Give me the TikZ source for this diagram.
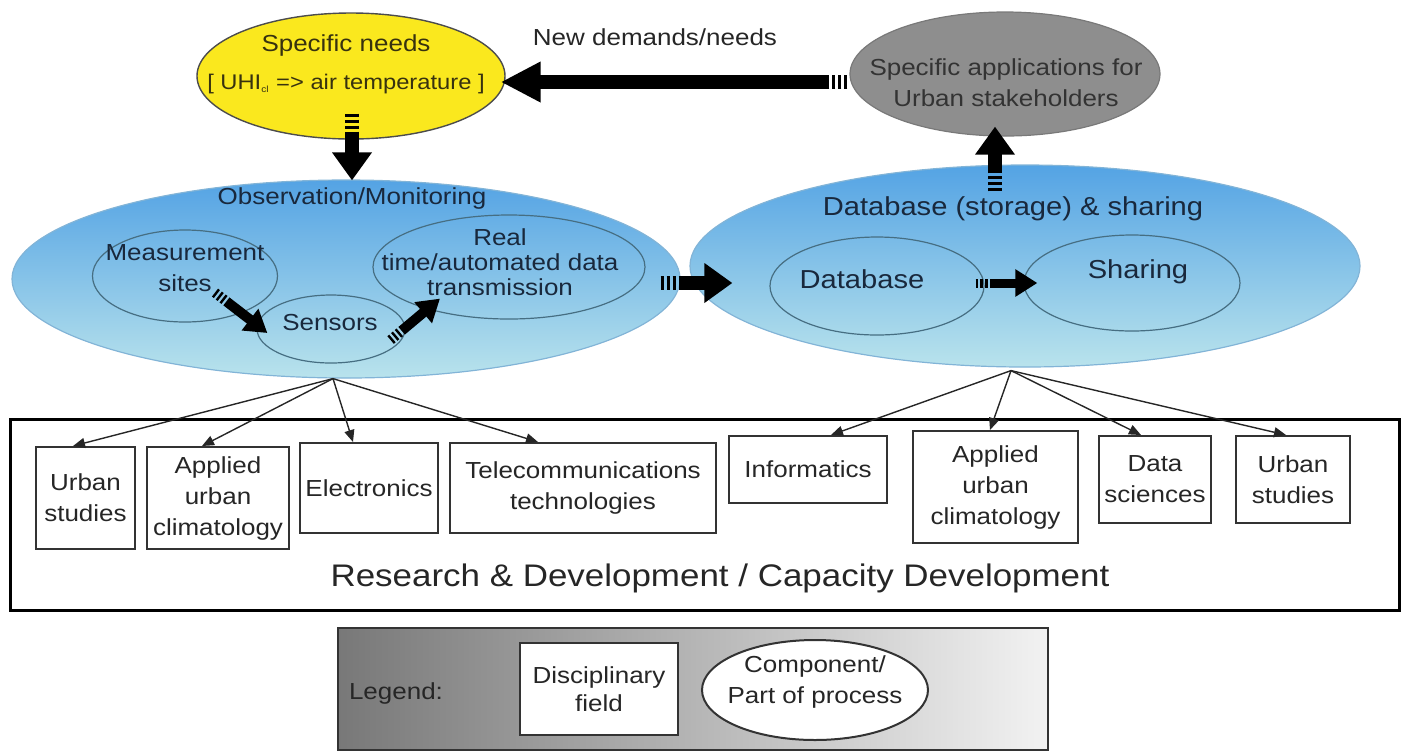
\documentclass[tikz,border=0pt]{standalone}
\usepackage{fontspec}
\setmainfont{Liberation Sans}[FakeStretch=1.12]
\usetikzlibrary{shapes.geometric,arrows.meta,calc}
\definecolor{ylw}{RGB}{250,232,30}
\definecolor{ytext}{RGB}{55,50,15}
\definecolor{gry}{RGB}{142,142,142}
\definecolor{blueTop}{RGB}{84,163,228}
\definecolor{blueBot}{RGB}{185,227,236}
\definecolor{blueEdge}{RGB}{130,180,215}
\definecolor{inEdge}{RGB}{70,110,130}
\definecolor{btext}{RGB}{25,40,60}
\definecolor{lgL}{RGB}{120,120,120}
\definecolor{lgR}{RGB}{242,242,242}
\begin{document}
\begin{tikzpicture}[x=0.5pt,y=-0.5pt,
  tx/.style={align=center, inner sep=0pt, font=\fontsize{11.6}{15.5}\selectfont, text=black!85},
  bigfont/.style={font=\fontsize{13}{16}\selectfont},
  ell/.style={ellipse, inner sep=0pt},
  bigell/.style={ellipse, inner sep=0pt, draw=blueEdge, line width=0.6pt, top color=blueTop, bottom color=blueBot},
  inell/.style={ellipse, inner sep=0pt, draw=inEdge, line width=0.6pt},
  box/.style={draw=black!80, line width=1pt, fill=white, inner sep=0pt, align=center, font=\fontsize{11.6}{15.5}\selectfont, text=black!85},
  fatarrow/.style={line width=7pt, -{Triangle[length=14pt,width=19pt]}, dash pattern=on 1.5pt off 1.5pt on 1.5pt off 1.5pt on 1.5pt off 1.5pt on 2000pt},
  midarrow/.style={line width=5pt, -{Triangle[length=11pt,width=13pt]}, dash pattern=on 1.2pt off 1.2pt on 1.2pt off 1.2pt on 1.2pt off 1.2pt on 2000pt},
  thinarrow/.style={line width=0.7pt, draw=black!85, -{Triangle[length=6pt,width=5pt]}}
]
\useasboundingbox (0,0) rectangle (1405,752);

% top nodes
\node[ell, fill=ylw, draw=black!70, line width=0.7pt, minimum width=154pt, minimum height=63pt] (needs) at (351,76) {};
\node[tx, text=ytext] (needsT) at (346,64) {Specific needs\\[3.5pt]{\fontsize{10.6}{12}\selectfont [ UHI\textsubscript{\fontsize{4.5}{5}\selectfont cl} => air temperature ]}};

\node[ell, fill=gry, draw=gry!85!black, line width=0.6pt, minimum width=155pt, minimum height=62pt] (apps) at (1005,74) {};
\node[tx, text=black!80] (appsT) at (1006,83) {Specific applications for\\Urban stakeholders};

\node[tx] (newd) at (655,37) {New demands/needs};

% observation ellipse
\node[bigell, minimum width=334pt, minimum height=99pt] (obs) at (346,279) {};
\node[tx, text=btext] (obsT) at (352,198) {Observation/Monitoring};
\node[inell, minimum width=92.5pt, minimum height=46pt] (meas) at (185,276) {};
\node[tx, text=btext] (measT) at (185,268) {Measurement\\sites};
\node[inell, minimum width=136pt, minimum height=52pt] (rt) at (509,267) {};
\node[tx, text=btext, font=\fontsize{11.6}{12.5}\selectfont] (rtT) at (500,262) {Real\\time/automated data\\transmission};
\node[inell, minimum width=74pt, minimum height=34pt] (sens) at (331,329) {};
\node[tx, text=btext] (sensT) at (330,323) {Sensors};

% database ellipse
\node[bigell, minimum width=335pt, minimum height=101pt] (db) at (1025,266) {};
\node[tx, bigfont, text=btext] (dbT) at (1013,209) {Database (storage) \& sharing};
\node[inell, minimum width=107pt, minimum height=49pt] (dbase) at (877,286) {};
\node[tx, bigfont, text=btext] (dbaseT) at (862,279) {Database};
\node[inell, minimum width=108pt, minimum height=48pt] (share) at (1132,283) {};
\node[tx, bigfont, text=btext] (shareT) at (1138,272) {Sharing};

% fat arrows
\draw[fatarrow, -{Triangle[length=20pt,width=19pt]}] ($(apps.west)+(-2,8)$) -- ($(needs.east)+(-5,6)$);
\draw[fatarrow] ($(needs.south)+(1,-26)$) -- ($(obs.north)+(6,1)$);
\draw[fatarrow] ($(db.north)+(-30,27)$) -- ($(apps.south)+(-10,-10)$);
\draw[fatarrow] ($(obs.east)+(-20,4)$) -- ($(db.west)+(43,17)$);
\draw[midarrow] ($(meas.south)+(30,-30)$) -- ($(sens.west)+(11,4)$);
\draw[midarrow] ($(sens.east)+(-15,11)$) -- ($(rt.south)+(-69,-21)$);
\draw[midarrow, line width=4.5pt] ($(dbase.east)+(-9,-3)$) -- ($(share.west)+(14,0)$);

% R&D frame
\node[draw=black, line width=1.5pt, minimum width=694.5pt, minimum height=95.5pt, inner sep=0pt] (rd) at (704.5,514.5) {};
\node[tx, font=\fontsize{15.6}{18}\selectfont] (rdT) at (720,578) {Research \& Development / Capacity Development};

% disciplinary boxes
\node[box, minimum width=49.5pt, minimum height=51pt] (us1) at (85.5,498) {Urban\\studies};
\node[box, minimum width=71pt, minimum height=51pt] (auc1) at (218,498) {Applied\\urban\\climatology};
\node[box, minimum width=69pt, minimum height=45pt] (elec) at (369,488) {Electronics};
\node[box, minimum width=133pt, minimum height=45pt] (tele) at (583,488) {Telecommunications\\technologies};
\node[box, minimum width=79pt, minimum height=33.5pt] (info) at (808,469.5) {Informatics};
\node[box, minimum width=82.5pt, minimum height=56pt] (auc2) at (995.5,487) {Applied\\urban\\climatology};
\node[box, minimum width=56pt, minimum height=43.5pt] (ds) at (1155,479.5) {Data\\sciences};
\node[box, minimum width=57pt, minimum height=43.5pt] (us2) at (1293,479.5) {Urban\\studies};

% hubs and thin connectors
\coordinate (hubL) at ($(obs.south)+(-13,0)$);
\coordinate (hubR) at ($(db.south)+(-14,3)$);
\draw[thinarrow] (hubL) -- ($(us1.north)+(-12.5,0)$);
\draw[thinarrow] (hubL) -- ($(auc1.north)+(-16,0)$);
\draw[thinarrow] (hubL) -- ($(elec.north)+(-16,0)$);
\draw[thinarrow] (hubL) -- ($(tele.north)+(-45,0)$);
\draw[thinarrow] (hubR) -- ($(info.north)+(23,0)$);
\draw[thinarrow] (hubR) -- ($(auc2.north)+(-5.5,0)$);
\draw[thinarrow] (hubR) -- ($(ds.north)+(-14,0)$);
\draw[thinarrow] (hubR) -- ($(us2.north)+(-7,0)$);

% legend
\node[draw=black!80, line width=1pt, left color=lgL, right color=lgR, minimum width=355pt, minimum height=61pt, inner sep=0pt] (leg) at (693,689) {};
\node[tx] (legT) at (396,693) {Legend:};
\node[box, minimum width=79pt, minimum height=46pt, font=\fontsize{11.6}{14}\selectfont] (disc) at (599,689) {Disciplinary\\field};
\node[ell, fill=white, draw=black!80, line width=1pt, minimum width=113pt, minimum height=50pt] (comp) at (815,690) {};
\node[tx] (compT) at (815,682) {Component/\\Part of process};
\end{tikzpicture}
\end{document}
